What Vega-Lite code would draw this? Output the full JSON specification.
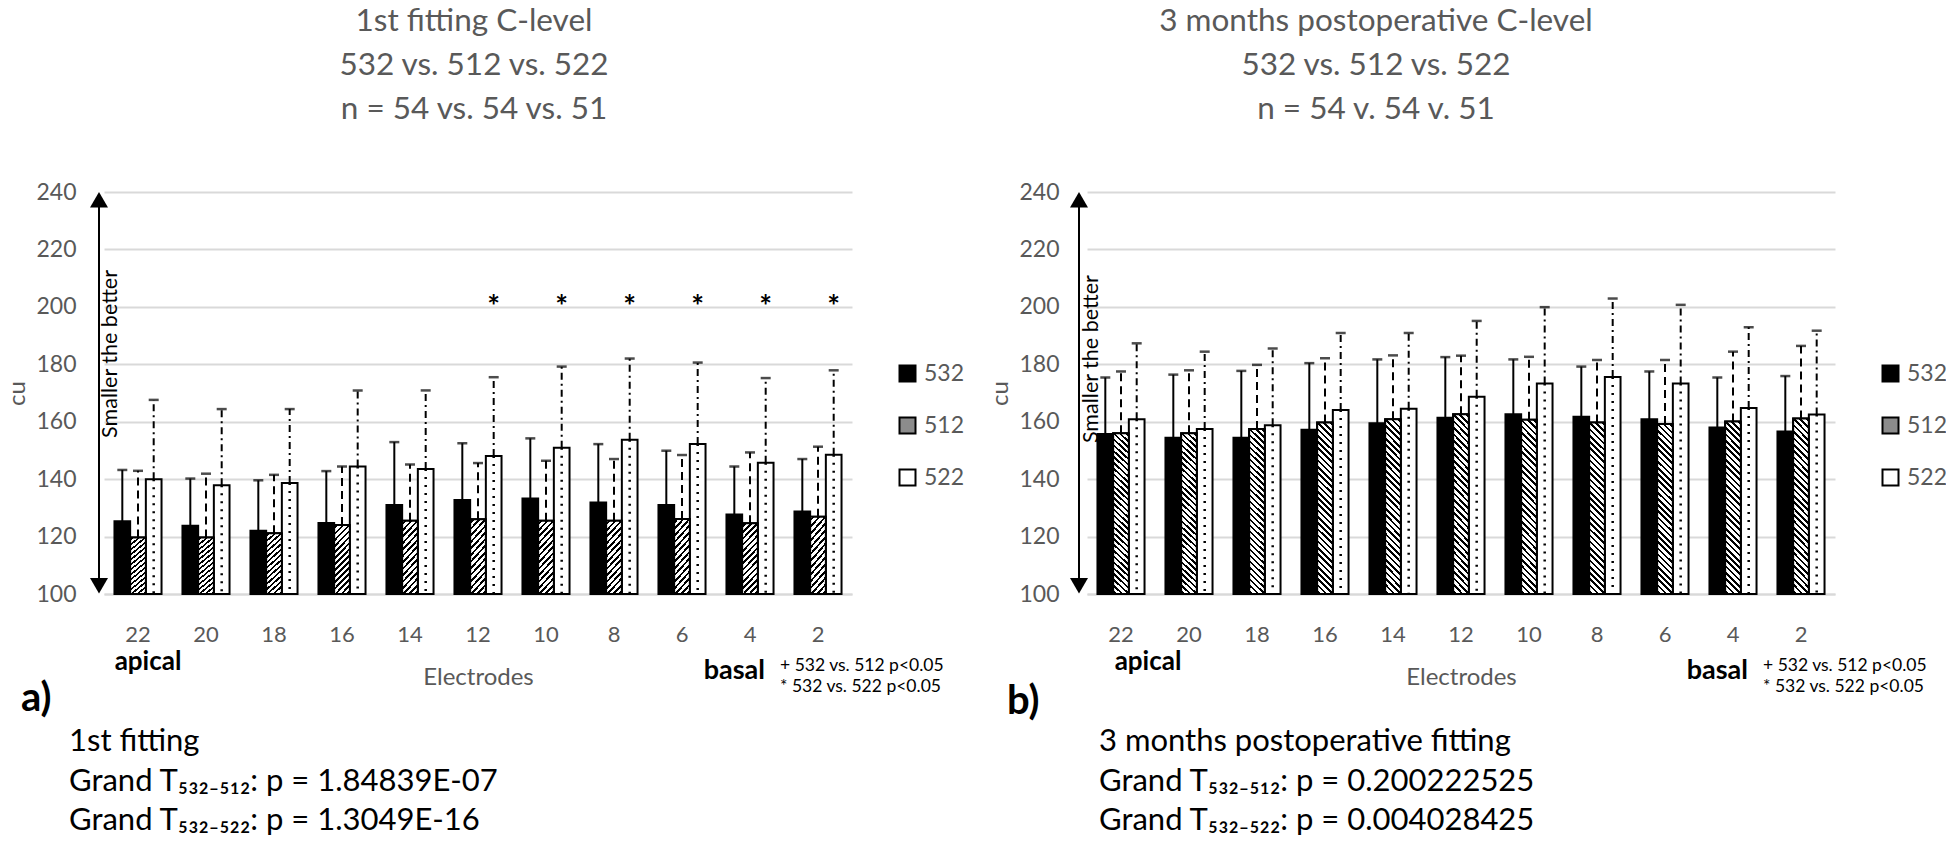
{
  "$schema": "https://vega.github.io/schema/vega-lite/v6.json",
  "background": "white",
  "padding": {"left": 5, "top": 5, "right": 0, "bottom": 0},
  "autosize": {"type": "pad"},
  "config": {
    "font": "Lato",
    "view": {"stroke": null},
    "axis": {"labelFont": "Lato", "titleFont": "Lato"},
    "legend": {"labelFont": "Lato"}
  },
  "datasets": {
    "first": [
      {"electrode": 22, "implant": "532", "value": 125.3, "upper": 143.2},
      {"electrode": 22, "implant": "512", "value": 119.7, "upper": 142.9},
      {"electrode": 22, "implant": "522", "value": 140.0, "upper": 167.6},
      {"electrode": 20, "implant": "532", "value": 123.8, "upper": 140.2},
      {"electrode": 20, "implant": "512", "value": 119.7, "upper": 141.9},
      {"electrode": 20, "implant": "522", "value": 137.9, "upper": 164.4},
      {"electrode": 18, "implant": "532", "value": 122.0, "upper": 139.6},
      {"electrode": 18, "implant": "512", "value": 121.2, "upper": 141.5},
      {"electrode": 18, "implant": "522", "value": 138.7, "upper": 164.4},
      {"electrode": 16, "implant": "532", "value": 124.7, "upper": 142.8},
      {"electrode": 16, "implant": "512", "value": 124.0, "upper": 144.4},
      {"electrode": 16, "implant": "522", "value": 144.4, "upper": 170.9},
      {"electrode": 14, "implant": "532", "value": 131.0, "upper": 152.9},
      {"electrode": 14, "implant": "512", "value": 125.5, "upper": 145.1},
      {"electrode": 14, "implant": "522", "value": 143.5, "upper": 170.9},
      {"electrode": 12, "implant": "532", "value": 132.7, "upper": 152.5},
      {"electrode": 12, "implant": "512", "value": 126.0, "upper": 145.6},
      {"electrode": 12, "implant": "522", "value": 148.1, "upper": 175.5},
      {"electrode": 10, "implant": "532", "value": 133.3, "upper": 154.2},
      {"electrode": 10, "implant": "512", "value": 125.5, "upper": 146.4},
      {"electrode": 10, "implant": "522", "value": 150.9, "upper": 179.2},
      {"electrode": 8, "implant": "532", "value": 131.9, "upper": 152.2},
      {"electrode": 8, "implant": "512", "value": 125.5, "upper": 147.0},
      {"electrode": 8, "implant": "522", "value": 153.7, "upper": 182.0},
      {"electrode": 6, "implant": "532", "value": 131.0, "upper": 149.9},
      {"electrode": 6, "implant": "512", "value": 126.1, "upper": 148.4},
      {"electrode": 6, "implant": "522", "value": 152.2, "upper": 180.6},
      {"electrode": 4, "implant": "532", "value": 127.7, "upper": 144.4},
      {"electrode": 4, "implant": "512", "value": 124.6, "upper": 149.3},
      {"electrode": 4, "implant": "522", "value": 145.7, "upper": 175.2},
      {"electrode": 2, "implant": "532", "value": 128.7, "upper": 147.0},
      {"electrode": 2, "implant": "512", "value": 126.9, "upper": 151.3},
      {"electrode": 2, "implant": "522", "value": 148.5, "upper": 177.9}
    ],
    "post": [
      {"electrode": 22, "implant": "532", "value": 155.7, "upper": 175.4},
      {"electrode": 22, "implant": "512", "value": 156.0, "upper": 177.5},
      {"electrode": 22, "implant": "522", "value": 160.9, "upper": 187.3},
      {"electrode": 20, "implant": "532", "value": 154.4, "upper": 176.4},
      {"electrode": 20, "implant": "512", "value": 156.0, "upper": 177.9},
      {"electrode": 20, "implant": "522", "value": 157.5, "upper": 184.4},
      {"electrode": 18, "implant": "532", "value": 154.4, "upper": 177.7},
      {"electrode": 18, "implant": "512", "value": 157.5, "upper": 179.8},
      {"electrode": 18, "implant": "522", "value": 158.8, "upper": 185.5},
      {"electrode": 16, "implant": "532", "value": 157.2, "upper": 180.4},
      {"electrode": 16, "implant": "512", "value": 159.7, "upper": 182.1},
      {"electrode": 16, "implant": "522", "value": 164.1, "upper": 190.9},
      {"electrode": 14, "implant": "532", "value": 159.5, "upper": 181.7},
      {"electrode": 14, "implant": "512", "value": 160.9, "upper": 183.1},
      {"electrode": 14, "implant": "522", "value": 164.5, "upper": 190.9},
      {"electrode": 12, "implant": "532", "value": 161.4, "upper": 182.5},
      {"electrode": 12, "implant": "512", "value": 162.6, "upper": 183.0},
      {"electrode": 12, "implant": "522", "value": 168.7, "upper": 195.1},
      {"electrode": 10, "implant": "532", "value": 162.6, "upper": 181.7},
      {"electrode": 10, "implant": "512", "value": 160.7, "upper": 182.6},
      {"electrode": 10, "implant": "522", "value": 173.3, "upper": 199.9},
      {"electrode": 8, "implant": "532", "value": 161.7, "upper": 179.2},
      {"electrode": 8, "implant": "512", "value": 159.7, "upper": 181.5},
      {"electrode": 8, "implant": "522", "value": 175.6, "upper": 202.9},
      {"electrode": 6, "implant": "532", "value": 160.9, "upper": 177.5},
      {"electrode": 6, "implant": "512", "value": 159.2, "upper": 181.5},
      {"electrode": 6, "implant": "522", "value": 173.3, "upper": 200.7},
      {"electrode": 4, "implant": "532", "value": 158.0, "upper": 175.4},
      {"electrode": 4, "implant": "512", "value": 160.1, "upper": 184.4},
      {"electrode": 4, "implant": "522", "value": 164.8, "upper": 192.9},
      {"electrode": 2, "implant": "532", "value": 156.6, "upper": 175.9},
      {"electrode": 2, "implant": "512", "value": 161.1, "upper": 186.4},
      {"electrode": 2, "implant": "522", "value": 162.5, "upper": 191.7}
    ],
    "starsFirst": [
      {"electrode": 12, "implant": "522", "mark": "*"},
      {"electrode": 10, "implant": "522", "mark": "*"},
      {"electrode": 8, "implant": "522", "mark": "*"},
      {"electrode": 6, "implant": "522", "mark": "*"},
      {"electrode": 4, "implant": "522", "mark": "*"},
      {"electrode": 2, "implant": "522", "mark": "*"}
    ]
  },
  "spacing": 235,
  "bounds": "flush",
  "resolve": {"scale": {"fill": "independent", "x": "independent", "y": "independent"}, "legend": {"fill": "independent"}},
  "hconcat": [
    {
      "width": 748,
      "height": 402,
      "title": {"text": ["1st fitting C-level", "532 vs. 512 vs. 522", "n = 54 vs. 54 vs. 51"], "font": "Lato", "fontSize": 31.5, "fontWeight": "normal", "color": "#595959", "lineHeight": 44, "anchor": "middle", "frame": "group", "baseline": "bottom", "offset": 24, "dx": -4},
      "data": {"name": "first"},
      "layer": [
        {
          "mark": {"type": "bar", "stroke": "black", "strokeWidth": 2},
          "encoding": {
            "x": {"field": "electrode", "type": "ordinal", "scale": {"domain": [22, 20, 18, 16, 14, 12, 10, 8, 6, 4, 2], "paddingInner": 0, "paddingOuter": 0},
              "axis": {"title": "Electrodes", "titleFontSize": 24, "titleColor": "#595959", "titleFontWeight": "normal", "titlePadding": 20, "labelFontSize": 22, "labelColor": "#595959", "labelPadding": 30, "labelAngle": 0, "ticks": false, "domainColor": "#d9d9d9", "domainWidth": 2, "grid": false}},
            "xOffset": {"field": "implant", "type": "nominal", "scale": {"domain": ["532", "512", "522"], "paddingInner": 0, "paddingOuter": 0.667}},
            "y": {"field": "value", "type": "quantitative", "scale": {"domain": [100, 240], "nice": false, "zero": false},
              "axis": {"title": "cu", "values": [100, 120, 140, 160, 180, 200, 220, 240], "grid": true, "gridColor": "#d9d9d9", "gridWidth": 2, "domain": false, "ticks": false, "labelFontSize": 23, "labelColor": "#595959", "labelPadding": 28, "titleFontSize": 24, "titleColor": "#595959", "titleFontWeight": "normal", "titlePadding": 6}},
            "y2": {"datum": 100},
            "fill": {"field": "implant", "type": "nominal",
              "scale": {"domain": ["532", "512", "522"], "range": ["black", "#8c8c8c", "white"]},
              "legend": {"orient": "none", "legendX": 792, "legendY": 170, "title": null, "padding": 0, "symbolType": "square", "symbolSize": 256, "symbolStrokeColor": "black", "symbolStrokeWidth": 2, "labelFontSize": 23, "labelColor": "#595959", "labelOffset": 5, "rowPadding": 27}}
          }
        },
        {
          "transform": [{"filter": "datum.implant == '512'"}],
          "mark": {"type": "bar", "stroke": "black", "strokeWidth": 2,
            "fill": {"gradient": "linear", "x1": 0, "y1": 0, "x2": 0.272, "y2": 1.17, "stops": [
              {"offset": 0, "color": "white"},
              {"offset": 0.025, "color": "white"}, {"offset": 0.025, "color": "black"}, {"offset": 0.055, "color": "black"}, {"offset": 0.055, "color": "white"},
              {"offset": 0.096, "color": "white"}, {"offset": 0.096, "color": "black"}, {"offset": 0.126, "color": "black"}, {"offset": 0.126, "color": "white"},
              {"offset": 0.168, "color": "white"}, {"offset": 0.168, "color": "black"}, {"offset": 0.198, "color": "black"}, {"offset": 0.198, "color": "white"},
              {"offset": 0.239, "color": "white"}, {"offset": 0.239, "color": "black"}, {"offset": 0.269, "color": "black"}, {"offset": 0.269, "color": "white"},
              {"offset": 0.311, "color": "white"}, {"offset": 0.311, "color": "black"}, {"offset": 0.341, "color": "black"}, {"offset": 0.341, "color": "white"},
              {"offset": 0.382, "color": "white"}, {"offset": 0.382, "color": "black"}, {"offset": 0.412, "color": "black"}, {"offset": 0.412, "color": "white"},
              {"offset": 0.453, "color": "white"}, {"offset": 0.453, "color": "black"}, {"offset": 0.483, "color": "black"}, {"offset": 0.483, "color": "white"},
              {"offset": 0.525, "color": "white"}, {"offset": 0.525, "color": "black"}, {"offset": 0.555, "color": "black"}, {"offset": 0.555, "color": "white"},
              {"offset": 0.596, "color": "white"}, {"offset": 0.596, "color": "black"}, {"offset": 0.626, "color": "black"}, {"offset": 0.626, "color": "white"},
              {"offset": 0.668, "color": "white"}, {"offset": 0.668, "color": "black"}, {"offset": 0.698, "color": "black"}, {"offset": 0.698, "color": "white"},
              {"offset": 0.739, "color": "white"}, {"offset": 0.739, "color": "black"}, {"offset": 0.769, "color": "black"}, {"offset": 0.769, "color": "white"},
              {"offset": 0.810, "color": "white"}, {"offset": 0.810, "color": "black"}, {"offset": 0.840, "color": "black"}, {"offset": 0.840, "color": "white"},
              {"offset": 0.882, "color": "white"}, {"offset": 0.882, "color": "black"}, {"offset": 0.912, "color": "black"}, {"offset": 0.912, "color": "white"},
              {"offset": 0.953, "color": "white"}, {"offset": 0.953, "color": "black"}, {"offset": 0.983, "color": "black"}, {"offset": 0.983, "color": "white"},
              {"offset": 1, "color": "white"}
            ]}},
          "encoding": {
            "x": {"field": "electrode", "type": "ordinal"},
            "xOffset": {"field": "implant", "type": "nominal"},
            "y": {"field": "value", "type": "quantitative"},
            "y2": {"datum": 100}
          }
        },
        {
          "transform": [{"filter": "datum.implant == '522'"}],
          "mark": {"type": "rule", "color": "black", "strokeWidth": 2.5, "strokeDash": [2, 6]},
          "encoding": {
            "x": {"field": "electrode", "type": "ordinal"},
            "xOffset": {"field": "implant", "type": "nominal"},
            "y": {"field": "value", "type": "quantitative"},
            "y2": {"datum": 100}
          }
        },
        {
          "transform": [{"filter": "datum.implant == '532'"}],
          "mark": {"type": "rule", "color": "black", "strokeWidth": 2},
          "encoding": {"x": {"field": "electrode", "type": "ordinal"}, "xOffset": {"field": "implant", "type": "nominal"}, "y": {"field": "value", "type": "quantitative"}, "y2": {"field": "upper"}}
        },
        {
          "transform": [{"filter": "datum.implant == '512'"}],
          "mark": {"type": "rule", "color": "black", "strokeWidth": 2, "strokeDash": [8, 5]},
          "encoding": {"x": {"field": "electrode", "type": "ordinal"}, "xOffset": {"field": "implant", "type": "nominal"}, "y": {"field": "value", "type": "quantitative"}, "y2": {"field": "upper"}}
        },
        {
          "transform": [{"filter": "datum.implant == '522'"}],
          "mark": {"type": "rule", "color": "black", "strokeWidth": 2, "strokeDash": [7, 4, 2, 4]},
          "encoding": {"x": {"field": "electrode", "type": "ordinal"}, "xOffset": {"field": "implant", "type": "nominal"}, "y": {"field": "value", "type": "quantitative"}, "y2": {"field": "upper"}}
        },
        {
          "mark": {"type": "tick", "orient": "horizontal", "size": 10, "thickness": 2.5, "color": "black"},
          "encoding": {
            "x": {"field": "electrode", "type": "ordinal"},
            "xOffset": {"field": "implant", "type": "nominal"},
            "y": {"field": "upper", "type": "quantitative"}
          }
        },
        {
          "data": {"name": "starsFirst"},
          "mark": {"type": "text", "font": "Lato", "fontSize": 30, "fontWeight": "bold", "color": "black", "baseline": "middle", "dy": 7},
          "encoding": {
            "x": {"field": "electrode", "type": "ordinal"},
            "xOffset": {"field": "implant", "type": "nominal"},
            "y": {"datum": 202, "type": "quantitative"},
            "text": {"field": "mark"}
          }
        },
        {
          "data": {"values": [{}]},
          "mark": {"type": "rule", "color": "black", "strokeWidth": 2, "xOffset": -5},
          "encoding": {"x": {"datum": 22, "type": "ordinal", "bandPosition": 0}, "y": {"datum": 101, "type": "quantitative"}, "y2": {"datum": 239}}
        },
        {
          "data": {"values": [{}]},
          "mark": {"type": "point", "shape": "triangle-up", "size": 324, "filled": true, "color": "black", "opacity": 1, "xOffset": -5},
          "encoding": {"x": {"datum": 22, "type": "ordinal", "bandPosition": 0}, "y": {"datum": 237.3, "type": "quantitative"}}
        },
        {
          "data": {"values": [{}]},
          "mark": {"type": "point", "shape": "triangle-down", "size": 324, "filled": true, "color": "black", "opacity": 1, "xOffset": -5},
          "encoding": {"x": {"datum": 22, "type": "ordinal", "bandPosition": 0}, "y": {"datum": 102.9, "type": "quantitative"}}
        },
        {
          "data": {"values": [{}]},
          "mark": {"type": "text", "text": "Smaller the better", "angle": 270, "font": "Lato", "fontSize": 21.5, "color": "black", "align": "center", "baseline": "middle", "xOffset": 7},
          "encoding": {"x": {"datum": 22, "type": "ordinal", "bandPosition": 0}, "y": {"datum": 183.6, "type": "quantitative"}}
        },
        {
          "data": {"values": [{}]},
          "mark": {"type": "text", "text": "apical", "font": "Lato", "fontSize": 26, "fontWeight": "bold", "color": "black", "align": "center", "baseline": "middle", "dx": 10},
          "encoding": {"x": {"datum": 22, "type": "ordinal"}, "y": {"datum": 76.2, "type": "quantitative"}}
        },
        {
          "data": {"values": [{}]},
          "mark": {"type": "text", "text": "basal", "font": "Lato", "fontSize": 27, "fontWeight": "bold", "color": "black", "align": "right", "baseline": "middle", "dx": -53},
          "encoding": {"x": {"datum": 2, "type": "ordinal"}, "y": {"datum": 73.2, "type": "quantitative"}}
        },
        {
          "data": {"values": [{}]},
          "mark": {"type": "text", "text": ["+ 532 vs. 512 p<0.05", "* 532 vs. 522 p<0.05"], "font": "Lato", "fontSize": 17.5, "lineHeight": 21, "color": "black", "align": "left", "baseline": "middle", "dx": -38},
          "encoding": {"x": {"datum": 2, "type": "ordinal"}, "y": {"datum": 74.9, "type": "quantitative"}}
        },
        {
          "data": {"values": [{}]},
          "mark": {"type": "text", "text": "a)", "font": "Lato", "fontSize": 40, "fontWeight": "bold", "color": "black", "align": "left", "baseline": "middle", "dx": -83},
          "encoding": {"x": {"datum": 22, "type": "ordinal", "bandPosition": 0}, "y": {"datum": 63.4, "type": "quantitative"}}
        },
        {
          "data": {"values": [{}]},
          "mark": {"type": "text", "text": ["1st fitting", "Grand T₅₃₂₋₅₁₂: p = 1.84839E-07", "Grand T₅₃₂₋₅₂₂: p = 1.3049E-16"], "font": "Lato, DejaVu Sans", "fontSize": 31, "lineHeight": 39.5, "color": "black", "align": "left", "baseline": "middle", "dx": -35},
          "encoding": {"x": {"datum": 22, "type": "ordinal", "bandPosition": 0}, "y": {"datum": 48.4, "type": "quantitative"}}
        }
      ]
    },
    {
      "width": 748,
      "height": 402,
      "title": {"text": ["3 months postoperative C-level", "532 vs. 512 vs. 522", "n = 54 v. 54 v. 51"], "font": "Lato", "fontSize": 31.5, "fontWeight": "normal", "color": "#595959", "lineHeight": 44, "anchor": "middle", "frame": "group", "baseline": "bottom", "offset": 24, "dx": -85},
      "data": {"name": "post"},
      "layer": [
        {
          "mark": {"type": "bar", "stroke": "black", "strokeWidth": 2},
          "encoding": {
            "x": {"field": "electrode", "type": "ordinal", "scale": {"domain": [22, 20, 18, 16, 14, 12, 10, 8, 6, 4, 2], "paddingInner": 0, "paddingOuter": 0},
              "axis": {"title": "Electrodes", "titleFontSize": 24, "titleColor": "#595959", "titleFontWeight": "normal", "titlePadding": 20, "labelFontSize": 22, "labelColor": "#595959", "labelPadding": 30, "labelAngle": 0, "ticks": false, "domainColor": "#d9d9d9", "domainWidth": 2, "grid": false}},
            "xOffset": {"field": "implant", "type": "nominal", "scale": {"domain": ["532", "512", "522"], "paddingInner": 0, "paddingOuter": 0.667}},
            "y": {"field": "value", "type": "quantitative", "scale": {"domain": [100, 240], "nice": false, "zero": false},
              "axis": {"title": "cu", "values": [100, 120, 140, 160, 180, 200, 220, 240], "grid": true, "gridColor": "#d9d9d9", "gridWidth": 2, "domain": false, "ticks": false, "labelFontSize": 23, "labelColor": "#595959", "labelPadding": 28, "titleFontSize": 24, "titleColor": "#595959", "titleFontWeight": "normal", "titlePadding": 6}},
            "y2": {"datum": 100},
            "fill": {"field": "implant", "type": "nominal",
              "scale": {"domain": ["532", "512", "522"], "range": ["black", "#8c8c8c", "white"]},
              "legend": {"orient": "none", "legendX": 792, "legendY": 170, "title": null, "padding": 0, "symbolType": "square", "symbolSize": 256, "symbolStrokeColor": "black", "symbolStrokeWidth": 2, "labelFontSize": 23, "labelColor": "#595959", "labelOffset": 5, "rowPadding": 27}}
          }
        },
        {
          "transform": [{"filter": "datum.implant == '512'"}],
          "mark": {"type": "bar", "stroke": "black", "strokeWidth": 2,
            "fill": {"gradient": "linear", "x1": 0, "y1": 1, "x2": 0.0988, "y2": -0.083, "stops": [
              {"offset": 0, "color": "white"},
              {"offset": 0.010, "color": "white"}, {"offset": 0.010, "color": "black"}, {"offset": 0.024, "color": "black"}, {"offset": 0.024, "color": "white"},
              {"offset": 0.043, "color": "white"}, {"offset": 0.043, "color": "black"}, {"offset": 0.057, "color": "black"}, {"offset": 0.057, "color": "white"},
              {"offset": 0.077, "color": "white"}, {"offset": 0.077, "color": "black"}, {"offset": 0.091, "color": "black"}, {"offset": 0.091, "color": "white"},
              {"offset": 0.110, "color": "white"}, {"offset": 0.110, "color": "black"}, {"offset": 0.124, "color": "black"}, {"offset": 0.124, "color": "white"},
              {"offset": 0.143, "color": "white"}, {"offset": 0.143, "color": "black"}, {"offset": 0.157, "color": "black"}, {"offset": 0.157, "color": "white"},
              {"offset": 0.177, "color": "white"}, {"offset": 0.177, "color": "black"}, {"offset": 0.191, "color": "black"}, {"offset": 0.191, "color": "white"},
              {"offset": 0.210, "color": "white"}, {"offset": 0.210, "color": "black"}, {"offset": 0.224, "color": "black"}, {"offset": 0.224, "color": "white"},
              {"offset": 0.243, "color": "white"}, {"offset": 0.243, "color": "black"}, {"offset": 0.257, "color": "black"}, {"offset": 0.257, "color": "white"},
              {"offset": 0.277, "color": "white"}, {"offset": 0.277, "color": "black"}, {"offset": 0.291, "color": "black"}, {"offset": 0.291, "color": "white"},
              {"offset": 0.310, "color": "white"}, {"offset": 0.310, "color": "black"}, {"offset": 0.324, "color": "black"}, {"offset": 0.324, "color": "white"},
              {"offset": 0.343, "color": "white"}, {"offset": 0.343, "color": "black"}, {"offset": 0.357, "color": "black"}, {"offset": 0.357, "color": "white"},
              {"offset": 0.377, "color": "white"}, {"offset": 0.377, "color": "black"}, {"offset": 0.391, "color": "black"}, {"offset": 0.391, "color": "white"},
              {"offset": 0.410, "color": "white"}, {"offset": 0.410, "color": "black"}, {"offset": 0.424, "color": "black"}, {"offset": 0.424, "color": "white"},
              {"offset": 0.443, "color": "white"}, {"offset": 0.443, "color": "black"}, {"offset": 0.457, "color": "black"}, {"offset": 0.457, "color": "white"},
              {"offset": 0.477, "color": "white"}, {"offset": 0.477, "color": "black"}, {"offset": 0.491, "color": "black"}, {"offset": 0.491, "color": "white"},
              {"offset": 0.510, "color": "white"}, {"offset": 0.510, "color": "black"}, {"offset": 0.524, "color": "black"}, {"offset": 0.524, "color": "white"},
              {"offset": 0.543, "color": "white"}, {"offset": 0.543, "color": "black"}, {"offset": 0.557, "color": "black"}, {"offset": 0.557, "color": "white"},
              {"offset": 0.577, "color": "white"}, {"offset": 0.577, "color": "black"}, {"offset": 0.591, "color": "black"}, {"offset": 0.591, "color": "white"},
              {"offset": 0.610, "color": "white"}, {"offset": 0.610, "color": "black"}, {"offset": 0.624, "color": "black"}, {"offset": 0.624, "color": "white"},
              {"offset": 0.643, "color": "white"}, {"offset": 0.643, "color": "black"}, {"offset": 0.657, "color": "black"}, {"offset": 0.657, "color": "white"},
              {"offset": 0.677, "color": "white"}, {"offset": 0.677, "color": "black"}, {"offset": 0.691, "color": "black"}, {"offset": 0.691, "color": "white"},
              {"offset": 0.710, "color": "white"}, {"offset": 0.710, "color": "black"}, {"offset": 0.724, "color": "black"}, {"offset": 0.724, "color": "white"},
              {"offset": 0.743, "color": "white"}, {"offset": 0.743, "color": "black"}, {"offset": 0.757, "color": "black"}, {"offset": 0.757, "color": "white"},
              {"offset": 0.777, "color": "white"}, {"offset": 0.777, "color": "black"}, {"offset": 0.791, "color": "black"}, {"offset": 0.791, "color": "white"},
              {"offset": 0.810, "color": "white"}, {"offset": 0.810, "color": "black"}, {"offset": 0.824, "color": "black"}, {"offset": 0.824, "color": "white"},
              {"offset": 0.843, "color": "white"}, {"offset": 0.843, "color": "black"}, {"offset": 0.857, "color": "black"}, {"offset": 0.857, "color": "white"},
              {"offset": 0.877, "color": "white"}, {"offset": 0.877, "color": "black"}, {"offset": 0.891, "color": "black"}, {"offset": 0.891, "color": "white"},
              {"offset": 0.910, "color": "white"}, {"offset": 0.910, "color": "black"}, {"offset": 0.924, "color": "black"}, {"offset": 0.924, "color": "white"},
              {"offset": 0.943, "color": "white"}, {"offset": 0.943, "color": "black"}, {"offset": 0.957, "color": "black"}, {"offset": 0.957, "color": "white"},
              {"offset": 0.977, "color": "white"}, {"offset": 0.977, "color": "black"}, {"offset": 0.991, "color": "black"}, {"offset": 0.991, "color": "white"},
              {"offset": 1, "color": "white"}
            ]}},
          "encoding": {
            "x": {"field": "electrode", "type": "ordinal"},
            "xOffset": {"field": "implant", "type": "nominal"},
            "y": {"field": "value", "type": "quantitative"},
            "y2": {"datum": 100}
          }
        },
        {
          "transform": [{"filter": "datum.implant == '522'"}],
          "mark": {"type": "rule", "color": "black", "strokeWidth": 2.5, "strokeDash": [2, 6]},
          "encoding": {
            "x": {"field": "electrode", "type": "ordinal"},
            "xOffset": {"field": "implant", "type": "nominal"},
            "y": {"field": "value", "type": "quantitative"},
            "y2": {"datum": 100}
          }
        },
        {
          "transform": [{"filter": "datum.implant == '532'"}],
          "mark": {"type": "rule", "color": "black", "strokeWidth": 2},
          "encoding": {"x": {"field": "electrode", "type": "ordinal"}, "xOffset": {"field": "implant", "type": "nominal"}, "y": {"field": "value", "type": "quantitative"}, "y2": {"field": "upper"}}
        },
        {
          "transform": [{"filter": "datum.implant == '512'"}],
          "mark": {"type": "rule", "color": "black", "strokeWidth": 2, "strokeDash": [8, 5]},
          "encoding": {"x": {"field": "electrode", "type": "ordinal"}, "xOffset": {"field": "implant", "type": "nominal"}, "y": {"field": "value", "type": "quantitative"}, "y2": {"field": "upper"}}
        },
        {
          "transform": [{"filter": "datum.implant == '522'"}],
          "mark": {"type": "rule", "color": "black", "strokeWidth": 2, "strokeDash": [7, 4, 2, 4]},
          "encoding": {"x": {"field": "electrode", "type": "ordinal"}, "xOffset": {"field": "implant", "type": "nominal"}, "y": {"field": "value", "type": "quantitative"}, "y2": {"field": "upper"}}
        },
        {
          "mark": {"type": "tick", "orient": "horizontal", "size": 10, "thickness": 2.5, "color": "black"},
          "encoding": {
            "x": {"field": "electrode", "type": "ordinal"},
            "xOffset": {"field": "implant", "type": "nominal"},
            "y": {"field": "upper", "type": "quantitative"}
          }
        },
        {
          "data": {"values": [{}]},
          "mark": {"type": "rule", "color": "black", "strokeWidth": 2, "xOffset": -8},
          "encoding": {"x": {"datum": 22, "type": "ordinal", "bandPosition": 0}, "y": {"datum": 101, "type": "quantitative"}, "y2": {"datum": 239}}
        },
        {
          "data": {"values": [{}]},
          "mark": {"type": "point", "shape": "triangle-up", "size": 324, "filled": true, "color": "black", "opacity": 1, "xOffset": -8},
          "encoding": {"x": {"datum": 22, "type": "ordinal", "bandPosition": 0}, "y": {"datum": 237.3, "type": "quantitative"}}
        },
        {
          "data": {"values": [{}]},
          "mark": {"type": "point", "shape": "triangle-down", "size": 324, "filled": true, "color": "black", "opacity": 1, "xOffset": -8},
          "encoding": {"x": {"datum": 22, "type": "ordinal", "bandPosition": 0}, "y": {"datum": 102.9, "type": "quantitative"}}
        },
        {
          "data": {"values": [{}]},
          "mark": {"type": "text", "text": "Smaller the better", "angle": 270, "font": "Lato", "fontSize": 21.5, "color": "black", "align": "center", "baseline": "middle", "xOffset": 5},
          "encoding": {"x": {"datum": 22, "type": "ordinal", "bandPosition": 0}, "y": {"datum": 181.8, "type": "quantitative"}}
        },
        {
          "data": {"values": [{}]},
          "mark": {"type": "text", "text": "apical", "font": "Lato", "fontSize": 26, "fontWeight": "bold", "color": "black", "align": "center", "baseline": "middle", "dx": 27},
          "encoding": {"x": {"datum": 22, "type": "ordinal"}, "y": {"datum": 76.2, "type": "quantitative"}}
        },
        {
          "data": {"values": [{}]},
          "mark": {"type": "text", "text": "basal", "font": "Lato", "fontSize": 27, "fontWeight": "bold", "color": "black", "align": "right", "baseline": "middle", "dx": -53},
          "encoding": {"x": {"datum": 2, "type": "ordinal"}, "y": {"datum": 73.2, "type": "quantitative"}}
        },
        {
          "data": {"values": [{}]},
          "mark": {"type": "text", "text": ["+ 532 vs. 512 p<0.05", "* 532 vs. 522 p<0.05"], "font": "Lato", "fontSize": 17.5, "lineHeight": 21, "color": "black", "align": "left", "baseline": "middle", "dx": -38},
          "encoding": {"x": {"datum": 2, "type": "ordinal"}, "y": {"datum": 74.9, "type": "quantitative"}}
        },
        {
          "data": {"values": [{}]},
          "mark": {"type": "text", "text": "b)", "font": "Lato", "fontSize": 40, "fontWeight": "bold", "color": "black", "align": "left", "baseline": "middle", "dx": -80},
          "encoding": {"x": {"datum": 22, "type": "ordinal", "bandPosition": 0}, "y": {"datum": 62.4, "type": "quantitative"}}
        },
        {
          "data": {"values": [{}]},
          "mark": {"type": "text", "text": ["3 months postoperative fitting", "Grand T₅₃₂₋₅₁₂: p = 0.200222525", "Grand T₅₃₂₋₅₂₂: p = 0.004028425"], "font": "Lato, DejaVu Sans", "fontSize": 31, "lineHeight": 39.5, "color": "black", "align": "left", "baseline": "middle", "dx": 12},
          "encoding": {"x": {"datum": 22, "type": "ordinal", "bandPosition": 0}, "y": {"datum": 48.4, "type": "quantitative"}}
        }
      ]
    }
  ]
}
